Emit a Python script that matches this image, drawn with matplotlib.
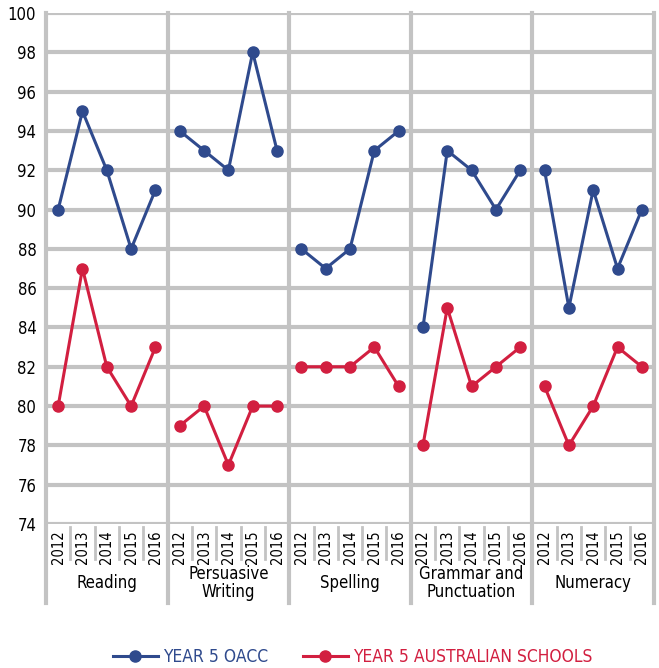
import matplotlib
matplotlib.use("Agg")
import matplotlib.pyplot as plt
from matplotlib import font_manager as fm

# pick a condensed sans font if available
cand = None
best = -1
for f in fm.fontManager.ttflist:
    fn = f.fname.lower().split("/")[-1]
    if not ("condensed" in fn or "narrow" in fn):
        continue
    if any(k in fn for k in ("bold", "oblique", "italic", "serif", "mono", "light", "black", "thin", "medium", "semi", "extra")):
        continue
    score = 2 if "sans" in fn else 1
    if "liberation" in fn:
        score += 1
    if score > best:
        best, cand = score, f.fname
def FP(size):
    if cand:
        return fm.FontProperties(fname=cand, size=size)
    return fm.FontProperties(family="DejaVu Sans", size=size)

categories = ["Reading", "Persuasive\nWriting", "Spelling", "Grammar and\nPunctuation", "Numeracy"]
years = ["2012", "2013", "2014", "2015", "2016"]
oacc = [
    [90, 95, 92, 88, 91],
    [94, 93, 92, 98, 93],
    [88, 87, 88, 93, 94],
    [84, 93, 92, 90, 92],
    [92, 85, 91, 87, 90],
]
aus = [
    [80, 87, 82, 80, 83],
    [79, 80, 77, 80, 80],
    [82, 82, 82, 83, 81],
    [78, 85, 81, 82, 83],
    [81, 78, 80, 83, 82],
]
series_labels = ["YEAR 5 OACC", "YEAR 5 AUSTRALIAN SCHOOLS"]
yticks = list(range(74, 101, 2))

BLUE = "#2f4a8d"
RED = "#d21f40"
GRID = "#c3c3c3"

fig = plt.figure(figsize=(6.59, 6.68), dpi=100)
ax = fig.add_axes([46/659, 1-524/668, (654-46)/659, (524-13)/668])
n = len(years)
ax.set_xlim(-0.5, len(categories)*n - 0.5)
ax.set_ylim(74, 100)
ax.set_yticks(yticks)
ax.tick_params(axis='y', length=0, pad=7)
ax.set_yticklabels([str(t) for t in yticks], fontproperties=FP(12))
ax.set_xticks([])
for s in ax.spines.values():
    s.set_visible(False)
for t in yticks:
    ax.axhline(t, color=GRID, lw=3, zorder=0)

trans = ax.get_xaxis_transform()
for g, cat in enumerate(categories):
    xs = [g*n + i for i in range(n)]
    l1, = ax.plot(xs, oacc[g], color=BLUE, lw=2.2, marker='o', ms=8, zorder=3)
    l2, = ax.plot(xs, aus[g], color=RED, lw=2.2, marker='o', ms=8, zorder=3)
    ax.plot([g*n - 0.5]*2, [1, -0.155], transform=trans, color=GRID, lw=3, clip_on=False, zorder=1)
    for i, x in enumerate(xs):
        ax.text(x, -0.013, years[i], transform=trans, rotation=90, ha='center', va='top',
                fontproperties=FP(10.5))
        if i > 0:
            ax.plot([x - 0.5]*2, [-0.006, -0.068], transform=trans, color=GRID, lw=2, clip_on=False)
    ax.text(g*n + 2, -0.115, cat, transform=trans, ha='center', va='center',
            fontproperties=FP(12), linespacing=1.0)
ax.plot([len(categories)*n - 0.5]*2, [1, -0.155], transform=trans, color=GRID, lw=3, clip_on=False, zorder=1)

leg = fig.legend([l1, l2], series_labels, loc='center', bbox_to_anchor=(0.535, 1-657/668),
                 ncol=2, frameon=False, prop=FP(12.5), handlelength=2.6, columnspacing=2.0,
                 handletextpad=0.3)
for txt, c in zip(leg.get_texts(), [BLUE, RED]):
    txt.set_color(c)

fig.savefig("out.png", dpi=100)
